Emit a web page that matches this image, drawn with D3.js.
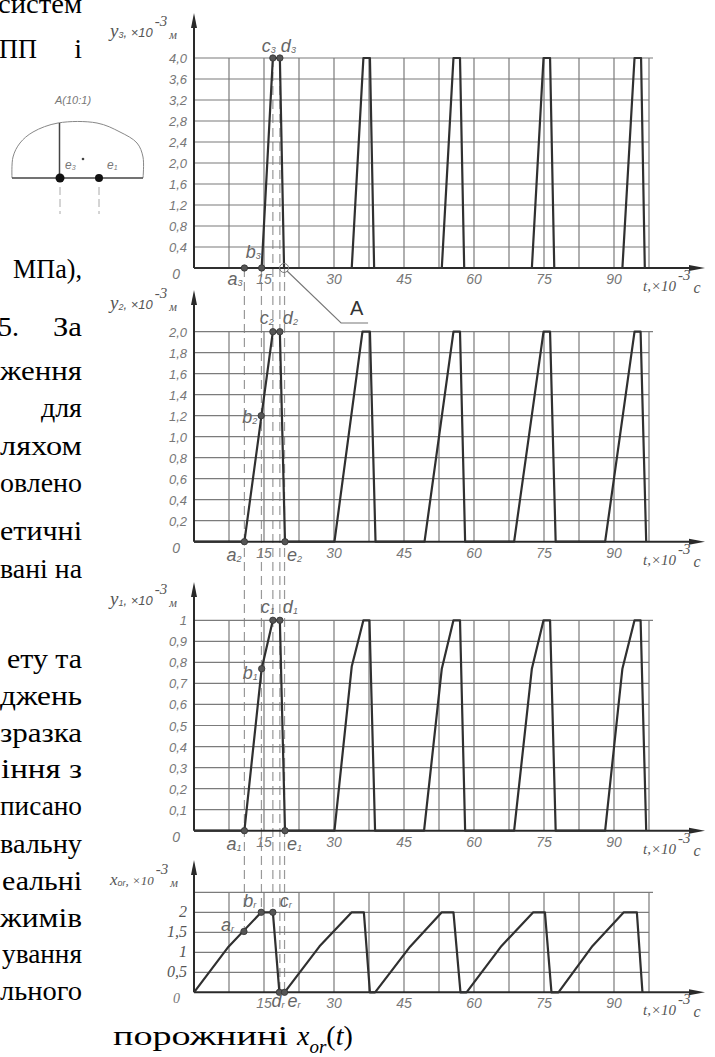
<!DOCTYPE html>
<html><head><meta charset="utf-8">
<script src="https://cdn.jsdelivr.net/npm/d3@7"></script>
<style>
html,body{margin:0;padding:0;background:#fff;}
svg{display:block;}
</style></head>
<body>
<svg id="c" width="715" height="1057"></svg>
<script>
// ---------- data ----------
const tTicks = [15, 30, 45, 60, 75, 90];
const gridT = [7.5, 15, 22.5, 30, 37.5, 45, 52.5, 60, 67.5, 75, 82.5, 90, 97.5];

const y3Ticks = [0.4, 0.8, 1.2, 1.6, 2.0, 2.4, 2.8, 3.2, 3.6, 4.0];
const y3TickLabels = ["0,4","0,8","1,2","1,6","2,0","2,4","2,8","3,2","3,6","4,0"];
const y3T = [0, 14.5, 16.9, 18.4, 19.3, 33.8, 36.3, 37.7, 38.6, 53.1, 55.6, 57.0, 57.9, 72.4, 74.9, 76.3, 77.2, 91.8, 94.4, 95.8, 96.6];
const y3V = [0, 0, 4, 4, 0, 0, 4, 4, 0, 0, 4, 4, 0, 0, 4, 4, 0, 0, 4, 4, 0];
const y3MarkT = [10.8, 14.5, 16.9, 18.4];
const y3MarkV = [0, 0, 4, 4];
const y3MarkN = ["a", "b", "c", "d"];

const y2Ticks = [0.2, 0.4, 0.6, 0.8, 1.0, 1.2, 1.4, 1.6, 1.8, 2.0];
const y2TickLabels = ["0,2","0,4","0,6","0,8","1,0","1,2","1,4","1,6","1,8","2,0"];
const y2T = [0, 10.8, 16.9, 18.4, 19.5, 30.1, 36.1, 37.7, 38.9, 49.4, 55.6, 57.0, 58.1, 68.6, 74.9, 76.3, 77.5, 88.1, 94.4, 95.7, 96.9];
const y2V = [0, 0, 2, 2, 0, 0, 2, 2, 0, 0, 2, 2, 0, 0, 2, 2, 0, 0, 2, 2, 0];
const y2MarkT = [10.8, 14.4, 16.9, 18.4, 19.5];
const y2MarkV = [0, 1.2, 2, 2, 0];
const y2MarkN = ["a", "b", "c", "d", "e"];

const y1Ticks = [0.1, 0.2, 0.3, 0.4, 0.5, 0.6, 0.7, 0.8, 0.9, 1];
const y1TickLabels = ["0,1","0,2","0,3","0,4","0,5","0,6","0,7","0,8","0,9","1"];
const y1T = [0, 10.8, 14.5, 16.9, 18.4, 19.5, 30.1, 33.8, 36.3, 37.6, 38.8, 49.3, 53.1, 55.6, 57.0, 58.1, 68.6, 72.4, 74.9, 76.3, 77.5, 88.1, 91.8, 94.4, 95.7, 96.9];
const y1V = [0, 0, 0.77, 1, 1, 0, 0, 0.78, 1, 1, 0, 0, 0.77, 1, 1, 0, 0, 0.77, 1, 1, 0, 0, 0.77, 1, 1, 0];
const y1MarkT = [10.8, 14.5, 16.9, 18.4, 19.5];
const y1MarkV = [0, 0.77, 1, 1, 0];
const y1MarkN = ["a", "b", "c", "d", "e"];

const xorTicks = [0.5, 1, 1.5, 2, 2.5];
const xorTickLabels = ["0,5","1","1,5","2",""];
const xorT = [0, 7.4, 14.4, 16.9, 18.3, 19.4, 26.9, 33.8, 36.4, 37.7, 38.8, 46.3, 53.1, 55.6, 57.1, 58.4, 65.9, 72.7, 75.2, 76.6, 78.1, 85.4, 92.1, 94.9, 96.1];
const xorV = [0, 1.14, 2, 2, 0, 0, 1.15, 2, 2, 0, 0, 1.14, 2, 2, 0, 0, 1.16, 2, 2, 0, 0, 1.16, 2, 2, 0];
const xorMarkT = [10.7, 14.4, 16.9, 18.3, 19.4];
const xorMarkV = [1.52, 2, 2, 0, 0];
const xorMarkN = ["a", "b", "c", "d", "e"];

const dashT = [10.8, 14.45, 16.9, 18.4, 19.4];
const dashFromY3 = [0, 0, 4, 4, 0];
const dashToXor = [1.52, 2, 2, 0, 0];
const calloutT = 19.3;

const bodyLines = ["систем","МПа),","ження","для","ляхом","овлено","етичні","вані на","ету та","джень","зразка","іння з","писано","вальну","еальні","жимів","ування","льного"];

// ---------- layout ----------
const svg = d3.select("#c");
const X0 = 194, X1 = 649, XEND = 705;
const x = d3.scaleLinear().domain([0, 97.5]).range([X0, X1]);
const GRID = "#7b7b7b", AX = "#2a2a2a", TXT = "#777", LINE = "#303030";
const numFont = "'Liberation Sans', Arial, sans-serif";
const serif = "'Liberation Serif', 'Times New Roman', serif";

const panels = [
  {max: 4, zero: 268, top: 58, arrow: 13, ticks: y3Ticks, labels: y3TickLabels, T: y3T, V: y3V,
   mT: y3MarkT, mV: y3MarkV, mN: y3MarkN, sub: "3", name: "y", nameSub: "3", labelY: 37, serifTicks: false,
   off: [[-17,17],[-16,-10],[-11,-6],[1,-6]]},
  {max: 2, zero: 541.7, top: 331.7, arrow: 290, ticks: y2Ticks, labels: y2TickLabels, T: y2T, V: y2V,
   mT: y2MarkT, mV: y2MarkV, mN: y2MarkN, sub: "2", name: "y", nameSub: "2", labelY: 309, serifTicks: false,
   off: [[-18,19],[-19,7],[-13,-8],[3,-8],[2,19]]},
  {max: 1, zero: 830.7, top: 620.3, arrow: 582, ticks: y1Ticks, labels: y1TickLabels, T: y1T, V: y1V,
   mT: y1MarkT, mV: y1MarkV, mN: y1MarkN, sub: "1", name: "y", nameSub: "1", labelY: 605, serifTicks: false,
   off: [[-18,19],[-19,10],[-12,-7],[3,-7],[2,19]]},
  {max: 2.5, zero: 992.3, top: 892.3, arrow: 860, ticks: xorTicks, labels: xorTickLabels, T: xorT, V: xorV,
   mT: xorMarkT, mV: xorMarkV, mN: xorMarkN, sub: "r", name: "x", nameSub: "or", labelY: 885, serifTicks: true,
   off: [[-23,-1],[-18,-5],[7,-5],[-8,15],[3,15]]}
];
panels.forEach(p => { p.y = d3.scaleLinear().domain([0, p.max]).range([p.zero, p.top]); });

// dashed projection lines
const p1 = panels[0], p4 = panels[3];
svg.append("g").selectAll("line").data(dashT).join("line")
  .attr("x1", d => x(d)).attr("x2", d => x(d))
  .attr("y1", (d, i) => p1.y(dashFromY3[i]))
  .attr("y2", (d, i) => p4.y(dashToXor[i]))
  .attr("stroke", "#999").attr("stroke-width", 1.2)
  .attr("stroke-dasharray", "9,5");

panels.forEach(p => {
  const g = svg.append("g");
  g.selectAll("line.h").data(p.ticks).join("line")
    .attr("x1", X0).attr("x2", (d, i) => i === p.ticks.length - 1 ? X1 + 4 : X1)
    .attr("y1", d => p.y(d)).attr("y2", d => p.y(d))
    .attr("stroke", GRID).attr("stroke-width", 1.2);
  g.selectAll("line.v").data(gridT).join("line")
    .attr("x1", d => x(d)).attr("x2", d => x(d))
    .attr("y1", p.zero).attr("y2", p.top)
    .attr("stroke", GRID).attr("stroke-width", 1.2);
  g.selectAll("text.yt").data(p.ticks).join("text")
    .attr("x", 187).attr("y", d => p.y(d) + 5)
    .attr("text-anchor", "end")
    .attr("font-family", p.serifTicks ? serif : numFont)
    .attr("font-style", "italic")
    .attr("font-size", p.serifTicks ? 16 : 13)
    .attr("fill", p.serifTicks ? "#555" : TXT)
    .text((d, i) => p.labels[i]);
  g.append("text").attr("x", 180).attr("y", p.zero + 11).attr("text-anchor", "end")
    .attr("font-family", p.serifTicks ? serif : numFont).attr("font-style", "italic")
    .attr("font-size", 14).attr("fill", TXT).text("0");
  g.selectAll("text.xt").data(tTicks).join("text")
    .attr("x", d => x(d)).attr("y", p.zero + 16)
    .attr("text-anchor", "middle")
    .attr("font-family", numFont).attr("font-style", "italic")
    .attr("font-size", 14).attr("fill", TXT)
    .text(d => d);
  g.append("line").attr("x1", X0).attr("x2", X0).attr("y1", p.zero).attr("y2", p.arrow + 10)
    .attr("stroke", AX).attr("stroke-width", 2);
  g.append("path").attr("d", `M${X0},${p.arrow} L${X0 - 3},${p.arrow + 15} L${X0 + 3},${p.arrow + 15} Z`).attr("fill", AX);
  g.append("line").attr("x1", X0).attr("x2", XEND - 10).attr("y1", p.zero).attr("y2", p.zero)
    .attr("stroke", AX).attr("stroke-width", 2);
  g.append("path").attr("d", `M${XEND},${p.zero} L${XEND - 16},${p.zero - 3} L${XEND - 16},${p.zero + 3} Z`).attr("fill", AX);
  const tl = g.append("text").attr("x", 643).attr("y", p.zero + 23)
    .attr("font-family", serif).attr("font-style", "italic").attr("fill", "#555");
  tl.append("tspan").attr("font-size", 15).text("t,×10");
  tl.append("tspan").attr("font-size", 15).attr("dy", -11).attr("dx", 2).text("-3");
  tl.append("tspan").attr("font-size", 16).attr("dy", 13).attr("dx", 3).text("c");
  const yl = g.append("text").attr("x", 110).attr("y", p.labelY)
    .attr("font-style", "italic").attr("fill", "#555");
  yl.append("tspan").attr("font-family", serif).attr("font-size", p.name === "x" ? 17 : 19).text(p.name);
  yl.append("tspan").attr("font-family", numFont).attr("font-size", 9).attr("dy", 1).text(p.nameSub);
  yl.append("tspan").attr("font-family", p.name === "x" ? serif : numFont).attr("font-size", 13).attr("dy", -1).text(", ×10");
  yl.append("tspan").attr("font-family", serif).attr("font-size", 15).attr("dy", -11).attr("dx", 2).text("-3");
  yl.append("tspan").attr("font-family", serif).attr("font-size", 12).attr("dy", 13).attr("dx", 2).text("м");
  const pts = p.T.map((t, i) => [t, p.V[i]]);
  g.append("path").datum(pts)
    .attr("d", d3.line().x(d => x(d[0])).y(d => p.y(d[1])))
    .attr("fill", "none").attr("stroke", LINE).attr("stroke-width", 2.2).attr("stroke-linejoin", "round");
  g.selectAll("circle.m").data(p.mT).join("circle")
    .attr("cx", d => x(d)).attr("cy", (d, i) => p.y(p.mV[i])).attr("r", 3.2)
    .attr("fill", "#555").attr("stroke", "#333").attr("stroke-width", 0.8);
  const ml = g.selectAll("text.ml").data(p.mT).join("text")
    .attr("x", (d, i) => x(d) + p.off[i][0]).attr("y", (d, i) => p.y(p.mV[i]) + p.off[i][1])
    .attr("font-family", numFont).attr("font-style", "italic").attr("fill", "#666");
  ml.append("tspan").attr("font-size", 18).text((d, i) => p.mN[i]);
  ml.append("tspan").attr("font-size", 9).attr("dy", 1).text(p.sub);
});

// callout A
{
  const cx = x(calloutT), cy = p1.y(0);
  svg.append("circle").attr("cx", cx).attr("cy", cy).attr("r", 4.5)
    .attr("fill", "none").attr("stroke", "#777").attr("stroke-width", 1);
  svg.append("path").attr("d", `M${cx + 3},${cy + 3} L${cx + 57},${cy + 55} L${cx + 84},${cy + 55}`)
    .attr("fill", "none").attr("stroke", "#777").attr("stroke-width", 1.1);
  svg.append("text").attr("x", cx + 66).attr("y", cy + 47)
    .attr("font-family", numFont).attr("font-size", 20).attr("fill", "#333").text("A");
}

// inset detail drawing
{
  const g = svg.append("g");
  g.append("text").attr("x", 55).attr("y", 104).attr("font-family", numFont)
    .attr("font-style", "italic").attr("font-size", 11).attr("fill", "#777").text("A(10:1)");
  const dome = [[12,178],[13,157],[20,143],[33,132],[58,123],[97,123],[120,132],[137,143],[143,157],[143,178]];
  g.append("path").attr("d", d3.line().curve(d3.curveCatmullRom)(dome))
    .attr("fill", "none").attr("stroke", "#888").attr("stroke-width", 1);
  g.append("line").attr("x1", 12).attr("x2", 143).attr("y1", 178).attr("y2", 178)
    .attr("stroke", "#444").attr("stroke-width", 1.5);
  g.append("line").attr("x1", 59.5).attr("x2", 59.5).attr("y1", 123).attr("y2", 178)
    .attr("stroke", "#444").attr("stroke-width", 1.5);
  g.append("circle").attr("cx", 60).attr("cy", 178).attr("r", 4.5).attr("fill", "#111");
  g.append("circle").attr("cx", 99).attr("cy", 178).attr("r", 4).attr("fill", "#111");
  g.append("circle").attr("cx", 83).attr("cy", 159).attr("r", 1.3).attr("fill", "#444");
  [[65,"3"],[107,"1"]].forEach(([xx, s]) => {
    const t = g.append("text").attr("x", xx).attr("y", 169).attr("font-family", numFont)
      .attr("font-style", "italic").attr("fill", "#777");
    t.append("tspan").attr("font-size", 12).text("e");
    t.append("tspan").attr("font-size", 7).attr("dy", 1).text(s);
  });
  [60, 99].forEach(xx => g.append("line").attr("x1", xx).attr("x2", xx).attr("y1", 187).attr("y2", 214)
    .attr("stroke", "#aaa").attr("stroke-width", 1).attr("stroke-dasharray", "8,4"));
}

// left body text (cropped page, right-justified column)
{
  const baselines = [13, 278, 380, 417, 455, 492, 540, 578, 668, 705, 742, 778, 815, 853, 890, 927, 963, 1000];
  const startX   = [-2, 13, 0, null, 0, 0, 0, 0, 7, 0, 0, 1, 0, 0, 2, 0, 2, 0];
  const g = svg.append("g").attr("font-family", serif).attr("font-size", 28).attr("fill", "#000");
  g.selectAll("text.b").data(bodyLines).join("text")
    .each(function (d, i) {
      const s = d3.select(this).attr("y", baselines[i]).text(d);
      if (startX[i] === null) {
        s.attr("x", 82).attr("text-anchor", "end");
      } else {
        s.attr("x", startX[i]).attr("textLength", 82 - startX[i]).attr("lengthAdjust", "spacingAndGlyphs");
      }
    });
  g.append("text").attr("x", -1).attr("y", 58).attr("textLength", 38).attr("lengthAdjust", "spacingAndGlyphs").text("ПП");
  g.append("text").attr("x", 82).attr("y", 58).attr("text-anchor", "end").text("і");
  g.append("text").attr("x", -2).attr("y", 336).text("5.");
  g.append("text").attr("x", 53).attr("y", 336).attr("textLength", 29).attr("lengthAdjust", "spacingAndGlyphs").text("За");
  g.append("text").attr("x", 113).attr("y", 1045).attr("textLength", 175).attr("lengthAdjust", "spacingAndGlyphs").text("порожнині");
  const cap = g.append("text").attr("x", 297).attr("y", 1045);
  cap.append("tspan").attr("font-style", "italic").text("x");
  cap.append("tspan").attr("font-style", "italic").attr("font-size", 19).attr("dy", 8).text("or");
  cap.append("tspan").attr("dy", -8).text("(");
  cap.append("tspan").attr("font-style", "italic").text("t");
  cap.append("tspan").text(")");
}
</script>
</body></html>
